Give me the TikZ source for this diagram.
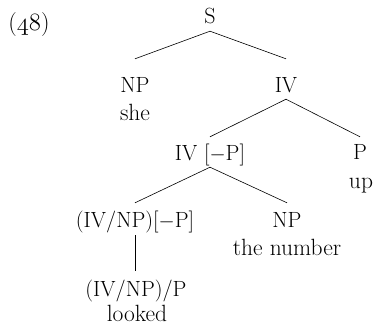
\documentclass[tikz,border=0pt]{standalone}
\usepackage{fontspec}
\setmainfont{Latin Modern Roman}
\begin{document}
\begin{tikzpicture}[x=1pt,y=-1pt,
  every node/.style={inner sep=0pt, anchor=base, font=\fontsize{22}{26}\selectfont},
  cat/.style={text height=15pt, text depth=5pt},
  word/.style={font=\fontsize{23.5}{27}\selectfont},
  branch/.style={line width=0.6pt}]
\useasboundingbox (0,0) rectangle (375,327);
\node[font=\fontsize{24}{28}\selectfont] (ex) at (29,30) {($\mathnormal{48}$)};
\node[cat] (S) at (210,23) {S};
\node[cat] (NP1) at (135,92) {NP};
\node[word] (she) at (135,120) {she};
\node[cat] (IV1) at (286,92) {IV};
\node[cat] (IVP) at (210,160) {IV [$-$P]};
\node[cat] (P) at (360,159) {P};
\node[word] (up) at (361,188) {up};
\node[cat] (IVNPP) at (135,227) {(IV/NP)[$-$P]};
\node[cat] (NP2) at (287,227) {NP};
\node[word] (num) at (287,255) {the number};
\node[cat] (IVNP2) at (136,296) {(IV/NP)/P};
\node[word] (looked) at (137,321) {looked};
\draw[branch] ([yshift=-3pt]S.south) -- ([yshift=18pt]NP1.north);
\draw[branch] ([yshift=-3pt]S.south) -- ([yshift=18pt]IV1.north);
\draw[branch] ([yshift=-2pt]IV1.south) -- ([yshift=8pt]IVP.north);
\draw[branch] ([yshift=-2pt]IV1.south) -- ([yshift=7pt]P.north);
\draw[branch] ([yshift=-2pt]IVP.south) -- ([yshift=9pt]IVNPP.north);
\draw[branch] ([yshift=-2pt]IVP.south) -- ([yshift=9pt]NP2.north);
\draw[branch] ([yshift=-3pt]IVNPP.south) -- ([yshift=10pt,xshift=-1pt]IVNP2.north);
\end{tikzpicture}
\end{document}
